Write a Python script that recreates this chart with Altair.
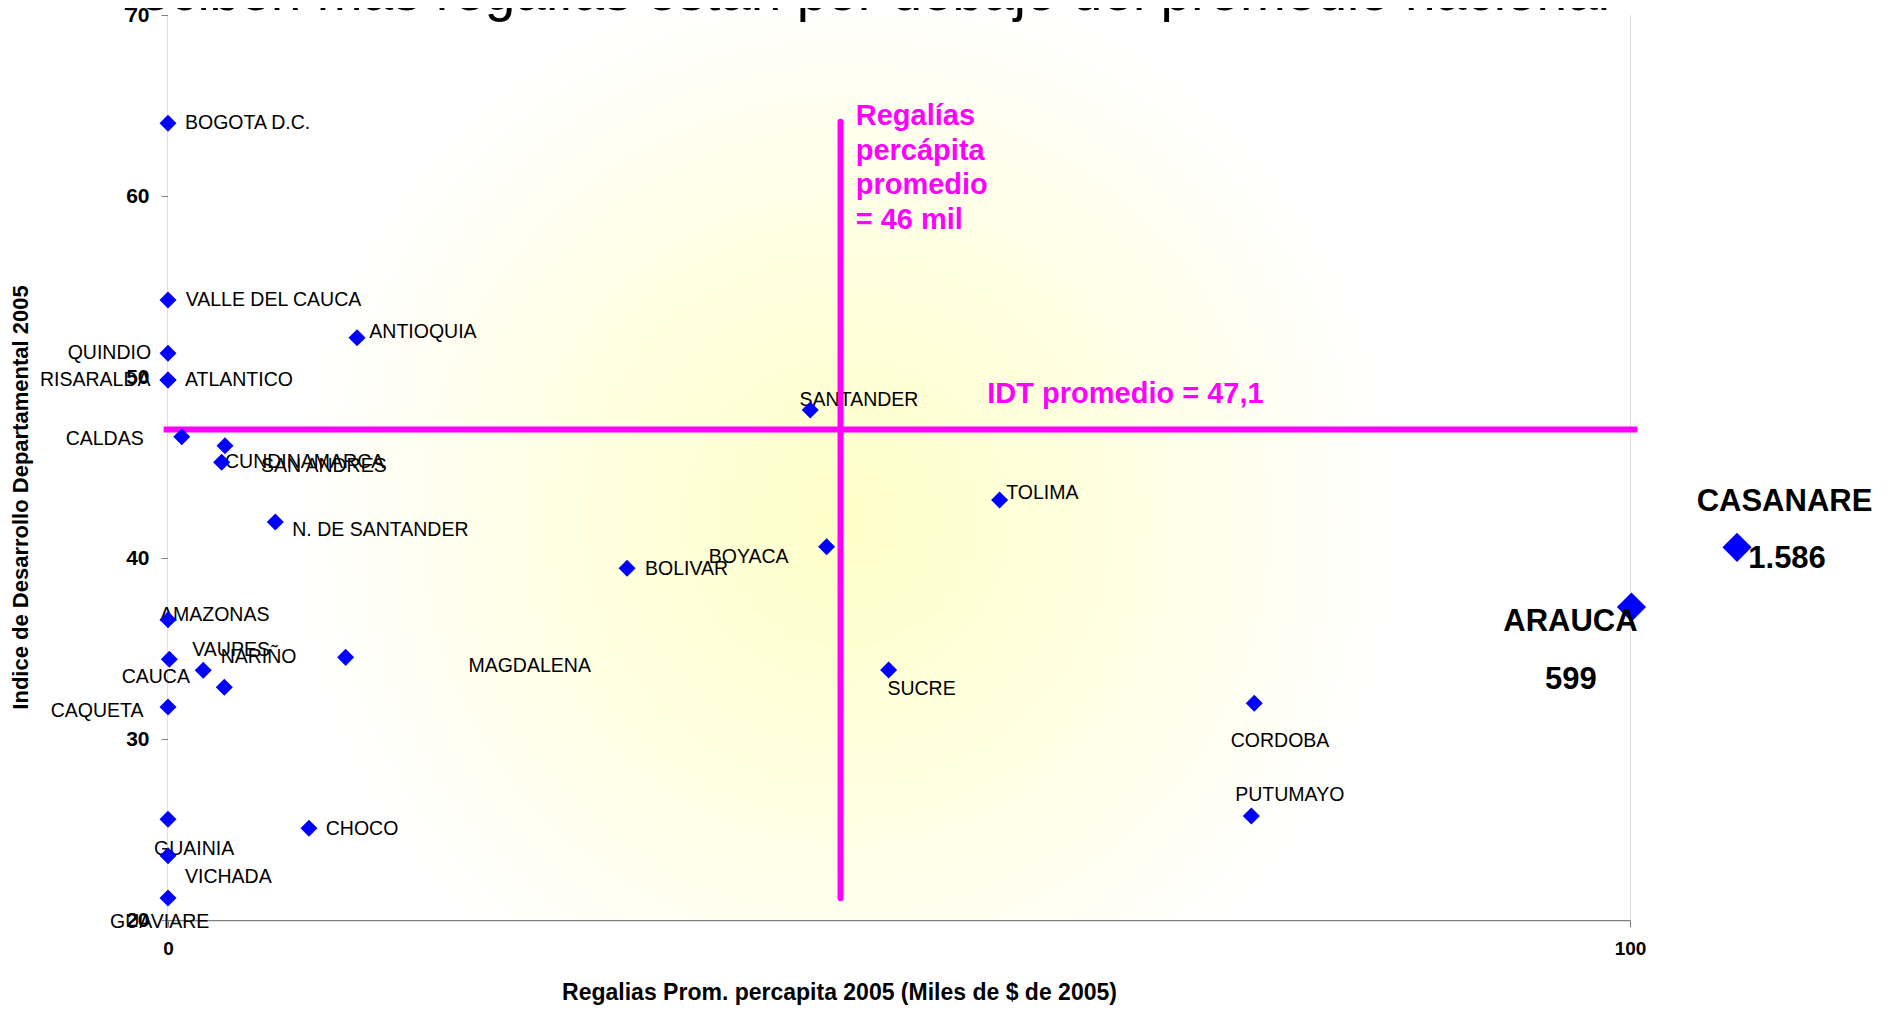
import altair as alt
import pandas as pd

# ---- data ----
departamentos = [
    "BOGOTA D.C.", "VALLE DEL CAUCA", "ANTIOQUIA", "QUINDIO", "RISARALDA",
    "ATLANTICO", "CALDAS", "SAN ANDRES", "CUNDINAMARCA", "N. DE SANTANDER",
    "AMAZONAS", "VAUPES", "CAUCA", "NARIÑO", "MAGDALENA", "CAQUETA",
    "GUAINIA", "CHOCO", "VICHADA", "GUAVIARE", "BOLIVAR", "BOYACA",
    "SANTANDER", "TOLIMA", "SUCRE", "CORDOBA", "PUTUMAYO", "ARAUCA", "CASANARE",
]
# Regalías prom. percápita 2005 (posición graficada; Arauca y Casanare fuera de escala)
regalias = [
    0.0, 0.0, 12.93, 0.0, 0.0,
    0.0, 0.94, 3.90, 3.67, 7.34,
    0.0, 0.09, 2.41, 3.85, 12.15, 0.0,
    0.0, 9.64, 0.0, 0.0, 31.40, 45.05,
    43.93, 56.88, 49.29, 74.30, 74.10, 100.10, 107.32,
]
# Índice de Desarrollo Departamental 2005
idt = [
    64.02, 54.25, 52.17, 51.31, 49.83,
    49.83, 46.70, 46.20, 45.29, 41.99,
    36.59, 34.41, 33.80, 32.86, 34.51, 31.77,
    25.57, 25.07, 23.55, 21.22, 39.43, 40.62,
    48.18, 43.20, 33.81, 31.97, 25.75, 37.29, 40.59,
]
destacado = [False] * 27 + [True, True]

# label anchor positions (data units), as placed in the reference
etiqueta_x = [
    1.16, 1.21, 13.77, -6.86, -8.76,
    1.16, -7.00, 6.36, 3.90, 8.50,
    -0.55, 1.66, -3.17, 3.60, 20.55, -8.02,
    -0.96, 10.79, 1.16, -3.97, 32.63, 36.99,
    43.20, 57.33, 49.21, 72.69, 73.00,
]
etiqueta_y = [
    64.02, 54.25, 52.47, 51.31, 49.83,
    49.83, 46.57, 45.10, 45.32, 41.53,
    36.83, 34.94, 33.42, 34.55, 34.05, 31.54,
    23.94, 25.03, 22.35, 19.87, 39.39, 40.07,
    48.73, 43.57, 32.76, 29.91, 26.91,
]

# highlighted labels
grandes_texto = ["CASANARE", "1.586", "ARAUCA", "599"]
grandes_x = [104.56, 108.09, 91.33, 94.19]
grandes_y = [43.08, 39.93, 36.48, 33.26]

# national averages
regalias_prom = 46
idt_prom = 47.1
linea_h_x = [-0.3, 100.5]
linea_v_y = [21.2, 64.1]

titulo = "reciben más regalías están por debajo del promedio nacional"
texto_regalias = "Regalías\npercápita\npromedio\n= 46 mil"
texto_regalias_pos = (47.04, 63.92)
texto_idt = "IDT promedio = 47,1"
texto_idt_pos = (56.04, 48.55)

# ---- build ----
W, H = 1462, 905
FONT = "Liberation Sans"
MAGENTA = "#FF00FF"
GRAY = "#808080"

pts = pd.DataFrame({"depto": departamentos, "reg": regalias, "idt": idt, "big": destacado})
labs = pd.DataFrame({"depto": departamentos[:27], "lx": etiqueta_x, "ly": etiqueta_y})
big_labs = pd.DataFrame({"t": grandes_texto, "lx": grandes_x, "ly": grandes_y})

xs = alt.Scale(domain=[0, 100], nice=False, zero=False)
ys = alt.Scale(domain=[20, 70], nice=False, zero=False)

one = pd.DataFrame({"a": [0]})

bg = alt.Chart(one).mark_rect(
    fill={
        "gradient": "radial",
        "x1": 0.464, "y1": 0.536, "r1": 0,
        "x2": 0.464, "y2": 0.536, "r2": 0.38,
        "stops": [
            {"offset": 0, "color": "#FFFFC8"},
            {"offset": 0.5, "color": "#FFFFE2"},
            {"offset": 1, "color": "#FFFFFF"},
        ],
    }
).encode(x=alt.value(0), x2=alt.value(W), y=alt.value(0), y2=alt.value(H))

points_small = alt.Chart(pts).transform_filter("!datum.big").mark_point(
    shape="diamond", filled=True, color="#0000FF", size=290, opacity=1
).encode(
    x=alt.X("reg:Q", scale=xs, axis=alt.Axis(
        values=[0, 100], grid=False, domainColor=GRAY, domainWidth=1.5,
        tickColor=GRAY, tickSize=7, labelFont=FONT, labelFontSize=19,
        labelFontWeight="bold", labelColor="black", labelPadding=12, labelFlush=False,
        title="Regalias Prom. percapita 2005 (Miles de $ de 2005)",
        titleFont=FONT, titleFontSize=23, titleFontWeight="bold", titleColor="black",
        titleX=671, titleY=72, titleBaseline="middle", titleAlign="center",
    )),
    y=alt.Y("idt:Q", scale=ys, axis=alt.Axis(
        values=[20, 30, 40, 50, 60, 70], grid=False, domainColor=GRAY, domainWidth=1.5,
        tickColor=GRAY, tickSize=7, labelFont=FONT, labelFontSize=21,
        labelFontWeight="bold", labelColor="black", labelPadding=12, labelFlush=False,
        title="Indice de Desarrollo Departamental 2005",
        titleFont=FONT, titleFontSize=22, titleFontWeight="bold", titleColor="black",
        titleAngle=270, titleX=-148, titleY=482, titleBaseline="middle", titleAlign="center",
    )),
)

points_big = alt.Chart(pts).transform_filter("datum.big").mark_point(
    shape="diamond", filled=True, color="#0000FF", size=850, opacity=1, clip=False
).encode(x=alt.X("reg:Q", scale=xs), y=alt.Y("idt:Q", scale=ys))

labels = alt.Chart(labs).mark_text(
    align="left", baseline="middle", font=FONT, fontSize=19.5, color="black", clip=False
).encode(x=alt.X("lx:Q", scale=xs), y=alt.Y("ly:Q", scale=ys), text="depto:N")

big_labels = alt.Chart(big_labs).mark_text(
    align="left", baseline="middle", font=FONT, fontSize=31, fontWeight="bold",
    color="black", clip=False
).encode(x=alt.X("lx:Q", scale=xs), y=alt.Y("ly:Q", scale=ys), text="t:N")

hrule = alt.Chart(pd.DataFrame({"x": [linea_h_x[0]], "x2": [linea_h_x[1]], "y": [idt_prom]})).mark_rule(
    color=MAGENTA, strokeWidth=6
).encode(x=alt.X("x:Q", scale=xs), x2="x2:Q", y=alt.Y("y:Q", scale=ys))

vrule = alt.Chart(pd.DataFrame({"x": [regalias_prom], "y": [linea_v_y[0]], "y2": [linea_v_y[1]]})).mark_rule(
    color=MAGENTA, strokeWidth=6, strokeCap="round"
).encode(x=alt.X("x:Q", scale=xs), y=alt.Y("y:Q", scale=ys), y2="y2:Q")

mtext1 = alt.Chart(pd.DataFrame({"t": [texto_regalias], "x": [texto_regalias_pos[0]], "y": [texto_regalias_pos[1]]})).mark_text(
    align="left", baseline="alphabetic", font=FONT, fontSize=29, fontWeight="bold",
    color=MAGENTA, lineBreak="\n", lineHeight=34.5
).encode(x=alt.X("x:Q", scale=xs), y=alt.Y("y:Q", scale=ys), text="t:N")

mtext2 = alt.Chart(pd.DataFrame({"t": [texto_idt], "x": [texto_idt_pos[0]], "y": [texto_idt_pos[1]]})).mark_text(
    align="left", baseline="alphabetic", font=FONT, fontSize=29, fontWeight="bold", color=MAGENTA
).encode(x=alt.X("x:Q", scale=xs), y=alt.Y("y:Q", scale=ys), text="t:N")

title = alt.Chart(one).mark_text(
    align="left", baseline="alphabetic", font=FONT, fontSize=55, color="black"
).encode(x=alt.value(-47), y=alt.value(-5), text=alt.value(titulo))

chart = alt.layer(
    bg, labels, hrule, vrule, points_small, points_big, big_labels, mtext1, mtext2, title
).properties(
    width=W, height=H,
    autosize=alt.AutoSizeParams(type="none"),
    padding={"left": 160, "top": 7, "right": 257, "bottom": 87},
).configure_view(stroke=None).configure(background="white")

chart.save("out.html", embed_options={"renderer": "svg", "actions": False})
